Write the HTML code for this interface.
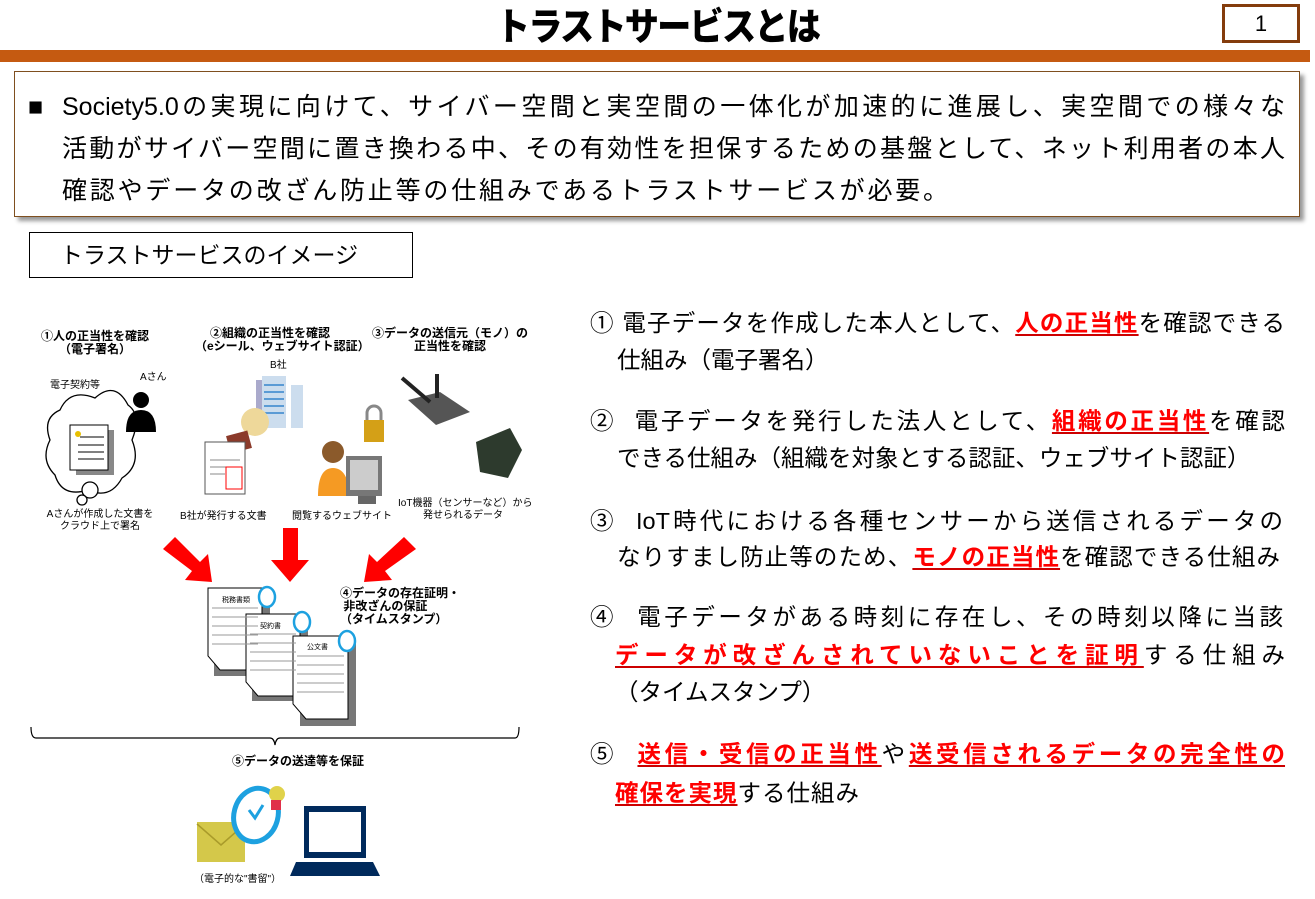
<!DOCTYPE html>
<html><head><meta charset="utf-8">
<style>
*{margin:0;padding:0;box-sizing:border-box}
body{width:1315px;height:899px;background:#fff;position:relative;overflow:hidden;font-family:"Liberation Sans","Noto Sans CJK JP",sans-serif;color:#000}
.a{position:absolute;white-space:nowrap}
.r{color:#f00;font-weight:bold;text-decoration:underline;text-decoration-color:#c00;text-underline-offset:3px}
.s{font-size:12px;font-weight:bold;text-align:center;line-height:13px}
.t{font-size:10px;text-align:center;line-height:12px}
.li{font-size:23.5px;line-height:30px}
.j{text-align:justify;text-align-last:justify;text-justify:inter-character;white-space:normal}
</style></head><body>
<div class="a" style="left:0;top:-4px;width:1315px;text-align:center;font-size:38px;font-weight:900;letter-spacing:-2px;transform:scaleX(0.9)">トラストサービスとは</div>
<div class="a" style="left:1222px;top:4px;width:78px;height:39px;border:3px solid #843c0c;text-align:center;font-size:22px;line-height:33px">1</div>
<div class="a" style="left:0;top:50px;width:1310px;height:12px;background:#c55a11"></div>

<div class="a" style="left:14px;top:71px;width:1286px;height:146px;border:1px solid #7f4f1f;box-shadow:4px 4px 4px #999;background:#fff"></div>
<div class="a" style="left:28px;top:86px;font-size:25px;line-height:42px">■</div>
<div class="a j" style="left:62px;top:86px;width:1223px;font-size:25px;line-height:42px">Society5.0の実現に向けて、サイバー空間と実空間の一体化が加速的に進展し、実空間での様々な</div>
<div class="a j" style="left:62px;top:128px;width:1223px;font-size:25px;line-height:42px">活動がサイバー空間に置き換わる中、その有効性を担保するための基盤として、ネット利用者の本人</div>
<div class="a" style="left:62px;top:170px;font-size:25px;line-height:42px;letter-spacing:2.8px">確認やデータの改ざん防止等の仕組みであるトラストサービスが必要。</div>

<div class="a" style="left:29px;top:232px;width:384px;height:46px;border:1px solid #000;font-size:23px;line-height:44px;padding-left:30px">トラストサービスのイメージ</div>

<!-- right list -->
<div class="a li j" style="left:590px;top:308px;width:695px">① 電子データを作成した本人として、<span class="r">人の正当性</span>を確認できる</div>
<div class="a li" style="left:617px;top:345px">仕組み（電子署名）</div>
<div class="a li j" style="left:590px;top:406px;width:695px">②&nbsp; 電子データを発行した法人として、<span class="r">組織の正当性</span>を確認</div>
<div class="a li" style="left:617px;top:443px">できる仕組み（組織を対象とする認証、ウェブサイト認証）</div>
<div class="a li j" style="left:590px;top:506px;width:693px">③&nbsp; IoT時代における各種センサーから送信されるデータの</div>
<div class="a li j" style="left:617px;top:542px;width:663px">なりすまし防止等のため、<span class="r">モノの正当性</span>を確認できる仕組み</div>
<div class="a li j" style="left:590px;top:602px;width:693px">④&nbsp; 電子データがある時刻に存在し、その時刻以降に当該</div>
<div class="a li j" style="left:615px;top:640px;width:670px"><span class="r">データが改ざんされていないことを証明</span>する仕組み</div>
<div class="a li" style="left:615px;top:677px">（タイムスタンプ）</div>
<div class="a li j" style="left:590px;top:739px;width:695px">⑤&nbsp; <span class="r">送信・受信の正当性</span>や<span class="r">送受信されるデータの完全性の</span></div>
<div class="a li" style="left:615px;top:778px;letter-spacing:1px"><span class="r">確保を実現</span>する仕組み</div>

<!-- left illustration labels -->
<div class="a s" style="left:30px;top:330px;width:130px">①人の正当性を確認<br>（電子署名）</div>
<div class="a s" style="left:195px;top:327px;width:150px">②組織の正当性を確認<br>（eシール、ウェブサイト認証）</div>
<div class="a s" style="left:370px;top:327px;width:160px">③データの送信元（モノ）の<br>正当性を確認</div>
<div class="a t" style="left:270px;top:360px">B社</div>
<div class="a t" style="left:140px;top:372px">Aさん</div>
<div class="a t" style="left:50px;top:380px">電子契約等</div>
<div class="a t" style="left:30px;top:509px;width:140px">Aさんが作成した文書を<br>クラウド上で署名</div>
<div class="a t" style="left:180px;top:511px">B社が発行する文書</div>
<div class="a t" style="left:292px;top:511px">閲覧するウェブサイト</div>
<div class="a t" style="left:398px;top:498px;width:130px">IoT機器（センサーなど）から<br>発せられるデータ</div>
<div class="a s" style="left:340px;top:587px;text-align:left">④データの存在証明・<br>&nbsp;非改ざんの保証<br>（タイムスタンプ）</div>
<div class="a s" style="left:232px;top:755px;text-align:left">⑤データの送達等を保証</div>
<div class="a t" style="left:194px;top:874px">（電子的な"書留"）</div>
<div class="a" style="left:318px;top:829px;font-size:8px">2/5 20:30</div>

<svg class="a" style="left:0;top:0" width="560" height="899" viewBox="0 0 560 899">
<g fill="#fff" stroke="#000" stroke-width="1.3">
<path d="M60 410 Q70 388 95 398 Q115 380 128 405 Q142 415 132 440 Q142 465 122 478 Q110 500 88 490 Q62 498 55 475 Q40 460 50 440 Q42 418 60 410Z"/>
<circle cx="90" cy="490" r="8"/><circle cx="82" cy="500" r="5"/>
</g>
<rect x="76" y="430" width="38" height="45" fill="#888"/>
<rect x="70" y="425" width="38" height="45" fill="#fff" stroke="#000"/>
<g stroke="#000"><line x1="80" y1="437" x2="104" y2="437"/><line x1="78" y1="445" x2="104" y2="445"/><line x1="78" y1="452" x2="104" y2="452"/><line x1="78" y1="459" x2="104" y2="459"/></g>
<circle cx="78" cy="434" r="3" fill="#e8c000"/>
<circle cx="141" cy="400" r="8" fill="#000"/>
<path d="M126 432 Q126 410 141 410 Q156 410 156 432 Z" fill="#000"/>
<rect x="256" y="380" width="30" height="48" fill="#aac"/>
<rect x="262" y="376" width="24" height="52" fill="#cde"/>
<g stroke="#5b9bd5" stroke-width="2"><line x1="264" y1="385" x2="284" y2="385"/><line x1="264" y1="392" x2="284" y2="392"/><line x1="264" y1="399" x2="284" y2="399"/><line x1="264" y1="406" x2="284" y2="406"/><line x1="264" y1="413" x2="284" y2="413"/></g>
<rect x="291" y="385" width="12" height="43" fill="#cde"/>
<ellipse cx="255" cy="422" rx="14" ry="14" fill="#eed89a"/>
<rect x="228" y="433" width="22" height="18" fill="#8b3a2a" transform="rotate(-15 239 442)"/>
<rect x="205" y="442" width="40" height="52" fill="#fff" stroke="#555"/>
<g stroke="#888"><line x1="210" y1="460" x2="240" y2="460"/><line x1="210" y1="467" x2="240" y2="467"/><line x1="210" y1="474" x2="225" y2="474"/></g>
<rect x="226" y="467" width="16" height="22" fill="none" stroke="#f00"/>
<circle cx="333" cy="452" r="11" fill="#8b5a2b"/>
<path d="M318 496 Q318 468 333 468 Q348 468 350 496Z" fill="#f59a23"/>
<rect x="346" y="456" width="36" height="40" fill="#777"/>
<rect x="350" y="460" width="28" height="30" fill="#ccc"/>
<rect x="358" y="496" width="18" height="8" fill="#666"/>
<rect x="364" y="420" width="20" height="22" fill="#d4a017"/>
<path d="M367 420 V413 a7 7 0 0 1 14 0 V420" fill="none" stroke="#888" stroke-width="3"/>
<polygon points="408,400 440,392 470,412 436,425" fill="#555"/>
<line x1="402" y1="378" x2="430" y2="402" stroke="#222" stroke-width="4"/>
<line x1="437" y1="374" x2="437" y2="398" stroke="#222" stroke-width="4"/>
<polygon points="476,442 510,428 522,450 508,478 480,472" fill="#2d3a2d"/>
<g fill="#f00">
<polygon points="163,549 175,537 200,562 208,554 212,582 185,580 192,571"/>
<polygon points="283,528 298,528 298,560 309,560 290,582 271,560 283,560"/>
<polygon points="416,549 404,537 377,562 369,554 364,582 392,580 385,571"/>
</g>
<g>
<rect x="214" y="593" width="56" height="83" fill="#777"/>
<polygon points="208,588 262,588 262,670 220,670 208,656" fill="#fff" stroke="#000"/>
<rect x="252" y="618" width="56" height="83" fill="#777"/>
<polygon points="246,614 300,614 300,696 258,696 246,682" fill="#fff" stroke="#000"/>
<rect x="300" y="643" width="56" height="83" fill="#777"/>
<polygon points="293,636 348,636 348,719 306,719 293,704" fill="#fff" stroke="#000"/>
<g stroke="#999"><line x1="212" y1="608" x2="258" y2="608"/><line x1="212" y1="617" x2="258" y2="617"/><line x1="212" y1="626" x2="258" y2="626"/><line x1="212" y1="635" x2="258" y2="635"/><line x1="212" y1="644" x2="258" y2="644"/>
<line x1="250" y1="634" x2="296" y2="634"/><line x1="250" y1="643" x2="296" y2="643"/><line x1="250" y1="652" x2="296" y2="652"/><line x1="250" y1="661" x2="296" y2="661"/><line x1="250" y1="670" x2="296" y2="670"/>
<line x1="297" y1="656" x2="344" y2="656"/><line x1="297" y1="665" x2="344" y2="665"/><line x1="297" y1="674" x2="344" y2="674"/><line x1="297" y1="683" x2="344" y2="683"/><line x1="297" y1="692" x2="344" y2="692"/></g>
<text x="222" y="602" font-size="7" font-family="Noto Sans CJK JP">税務書類</text>
<text x="260" y="628" font-size="7" font-family="Noto Sans CJK JP">契約書</text>
<text x="307" y="649" font-size="7" font-family="Noto Sans CJK JP">公文書</text>
<g fill="#fff" stroke="#1da1e0" stroke-width="2.5"><ellipse cx="267" cy="597" rx="8" ry="10"/><ellipse cx="302" cy="622" rx="8" ry="10"/><ellipse cx="347" cy="641" rx="8" ry="10"/></g>
</g>
<path d="M31 727 Q31 738 36 738 H270 Q274 738 275 745 Q276 738 280 738 H515 Q519 738 519 727" fill="none" stroke="#000" stroke-width="1.2"/>
<rect x="197" y="822" width="48" height="40" fill="#d4c84a"/>
<polyline points="197,824 221,845 245,824" fill="none" stroke="#a99b2a" stroke-width="1.5"/>
<ellipse cx="256" cy="815" rx="22" ry="27" fill="#fff" stroke="#1da1e0" stroke-width="5" transform="rotate(15 256 815)"/>
<polyline points="249,810 255,818 263,805" fill="none" stroke="#1da1e0" stroke-width="3"/>
<circle cx="277" cy="794" r="8" fill="#e0d24a"/>
<rect x="271" y="800" width="10" height="10" fill="#e0304a"/>
<rect x="304" y="806" width="62" height="52" fill="#002a5c"/>
<rect x="309" y="812" width="52" height="40" fill="#fff"/>
<polygon points="296,862 373,862 380,876 290,876" fill="#002a5c"/>
</svg>
</body></html>
